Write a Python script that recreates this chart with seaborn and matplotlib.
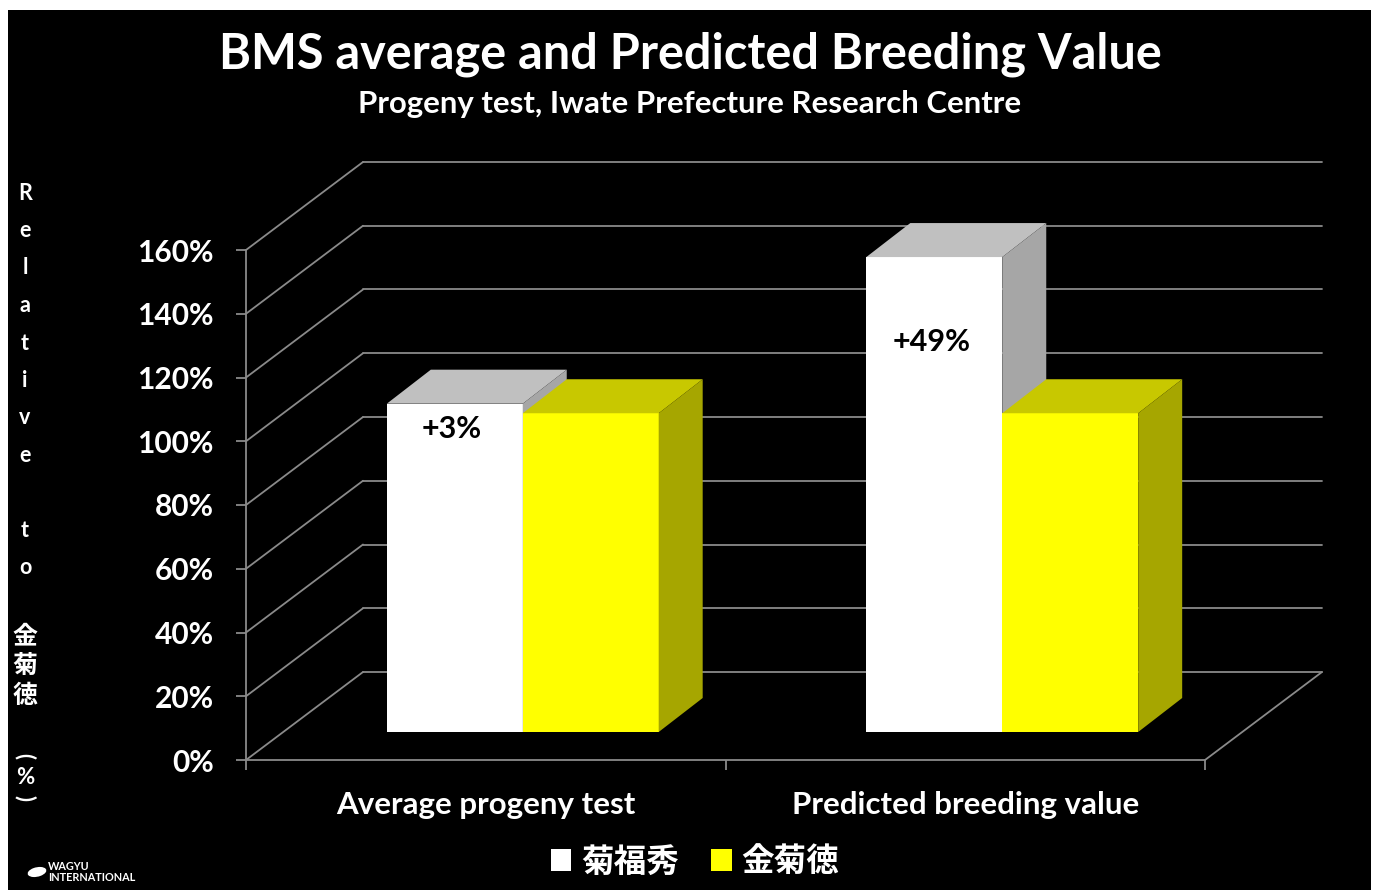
import matplotlib.pyplot as plt
import pandas as pd
import seaborn as sns
from matplotlib.font_manager import FontProperties
from matplotlib.patches import Ellipse, Polygon, Rectangle

W, H = 1377, 890

categories = ["Average progeny test", "Predicted breeding value"]
series = ["菊福秀", "金菊徳"]
kikufukuhide = [103, 149]
kinkikunori = [100, 100]
bar_labels = ["+3%", "+49%"]
yticks = [0, 20, 40, 60, 80, 100, 120, 140, 160]

df = pd.DataFrame(
    {
        "category": categories * 2,
        "series": [series[0]] * 2 + [series[1]] * 2,
        "value": kikufukuhide + kinkikunori,
    }
)

sns.set_theme(style="dark")
plt.rcParams["font.family"] = ["Lato", "Noto Sans CJK JP", "DejaVu Sans"]
plt.rcParams["font.weight"] = "bold"

GRID = "#8a8a8a"
front = {"white": "#FFFFFF", "yellow": "#FFFF00"}
shades = {0: ("#C0C0C0", "#A6A6A6"), 1: ("#C8C800", "#A6A600")}

fig = plt.figure(figsize=(W / 100, H / 100), dpi=100, facecolor="white")
fig.add_artist(
    Rectangle((8 / W, 0), 1363 / W, 880 / H, transform=fig.transFigure,
              facecolor="black", edgecolor="none", zorder=-10)
)


def px_axes(x0, y0, x1, y1):
    return fig.add_axes([x0 / W, 1 - y1 / H, (x1 - x0) / W, (y1 - y0) / H])


# front plane of the 3D box
ax = px_axes(246, 250, 1205, 760)
ax.set_xlim(-0.5, 1.5)
ax.set_ylim(0, 160)
ax.set_facecolor("none")

# depth of the back wall, in data units
px_x = 959 / 2
px_y = 510 / 160
wall_dx, wall_dy = 117 / px_x, 88 / px_y

for v in yticks:
    ax.plot([-0.5, -0.5 + wall_dx], [v, v + wall_dy], color=GRID, lw=1.3,
            clip_on=False, zorder=0)
    ax.plot([-0.5 + wall_dx, 1.5 + wall_dx], [v + wall_dy, v + wall_dy],
            color=GRID, lw=1.3, clip_on=False, zorder=0)
ax.plot([1.5, 1.5 + wall_dx], [0, wall_dy], color=GRID, lw=1.3,
        clip_on=False, zorder=0)

for s in ["top", "right"]:
    ax.spines[s].set_visible(False)
for s in ["left", "bottom"]:
    ax.spines[s].set_color(GRID)
    ax.spines[s].set_linewidth(1.3)

ax.set_yticks(yticks)
ax.set_yticklabels([f"{v}%" for v in yticks])
ax.tick_params(axis="y", colors=GRID, labelcolor="white", labelsize=21.5,
               length=7.2, width=1.3, pad=16, left=True)
ax.set_xticks([0, 1])
ax.set_xticklabels(categories)
ax.set_xticks([-0.5, 0.5, 1.5], minor=True)
ax.tick_params(axis="x", which="major", length=0, labelcolor="white",
               labelsize=22.5, pad=22)
ax.tick_params(axis="x", which="minor", length=7.2, width=1.3, colors=GRID,
               bottom=True)
ax.set_xlabel("")
ax.set_ylabel("")
ax.grid(False)

# bars sit a little behind the front plane
axb = px_axes(246 + 37, 250 - 28, 1205 + 37, 760 - 28)
sns.barplot(
    data=df, x="category", y="value", hue="series",
    palette=[front["white"], front["yellow"]], saturation=1,
    width=0.567, edgecolor="none", linewidth=0, ax=axb,
)
handles, labels = axb.get_legend_handles_labels()
if axb.legend_ is not None:
    axb.legend_.remove()
axb.set_xlim(-0.5, 1.5)
axb.set_ylim(0, 160)
axb.axis("off")

bar_dx, bar_dy = 44 / px_x, 34 / px_y
label_drop = [18, 61]
for hue_i, cont in enumerate(axb.containers):
    top_c, side_c = shades[hue_i]
    for cat_i, p in enumerate(cont.patches):
        x0, w, h = p.get_x(), p.get_width(), p.get_height()
        p.set_zorder(3 + hue_i)
        axb.add_patch(Polygon(
            [(x0, h), (x0 + w, h), (x0 + w + bar_dx, h + bar_dy), (x0 + bar_dx, h + bar_dy)],
            closed=True, facecolor=top_c, edgecolor="none", zorder=3 + hue_i, clip_on=False))
        axb.add_patch(Polygon(
            [(x0 + w, 0), (x0 + w, h), (x0 + w + bar_dx, h + bar_dy), (x0 + w + bar_dx, bar_dy)],
            closed=True, facecolor=side_c, edgecolor="none", zorder=3 + hue_i, clip_on=False))
        if hue_i == 0:
            axb.annotate(bar_labels[cat_i], (x0 + w / 2, h), xytext=(-2, -label_drop[cat_i]),
                         textcoords="offset points", ha="center", va="center",
                         fontsize=22, fontweight="bold", color="black", zorder=10)

fig.text(690 / W, 1 - 54 / H, "BMS average and Predicted Breeding Value",
         ha="center", va="center", color="white", fontsize=35, fontweight="bold")
fig.text(690 / W, 1 - 104 / H, "Progeny test, Iwate Prefecture Research Centre",
         ha="center", va="center", color="white", fontsize=22.4, fontweight="bold")

# stacked y label
latin = "Relative to"
y = 193
for ch in latin:
    if ch != " ":
        fig.text(25 / W, 1 - y / H, ch, ha="center", va="center", color="white",
                 fontsize=15.5, fontweight="bold")
    y += 37.5
for ch, yy in zip(["金", "菊", "徳"], [636, 666, 696]):
    fig.text(25 / W, 1 - yy / H, ch, ha="center", va="center", color="white",
             fontsize=18, fontweight="bold",
             family=["Noto Sans CJK JP", "DejaVu Sans"])
for ch, yy, rot in [("(", 756, -90), ("%", 778, 0), (")", 798, -90)]:
    fig.text(25 / W, 1 - yy / H, ch, ha="center", va="center", color="white",
             fontsize=16, fontweight="bold", rotation=rot)

fig.legend(
    handles, labels, loc="center", bbox_to_anchor=(695 / W, 1 - 862 / H),
    ncol=2, frameon=False, labelcolor="white",
    prop=FontProperties(family="Noto Sans CJK JP", weight="bold", size=23.5),
    handlelength=0.62, handleheight=0.62, handletextpad=0.3, columnspacing=1.0,
)

# logo
fig.add_artist(Ellipse((37 / W, 1 - 872 / H), 20 / W, 9 / H, angle=30,
                       transform=fig.transFigure, facecolor="white", edgecolor="none"))
fig.text(48 / W, 1 - 872 / H, "WAGYU\nINTERNATIONAL", ha="left", va="center",
         color="white", fontsize=7.8, fontweight="bold", linespacing=0.9)

plt.savefig("out.png", dpi=100, facecolor="white")
plt.close()
